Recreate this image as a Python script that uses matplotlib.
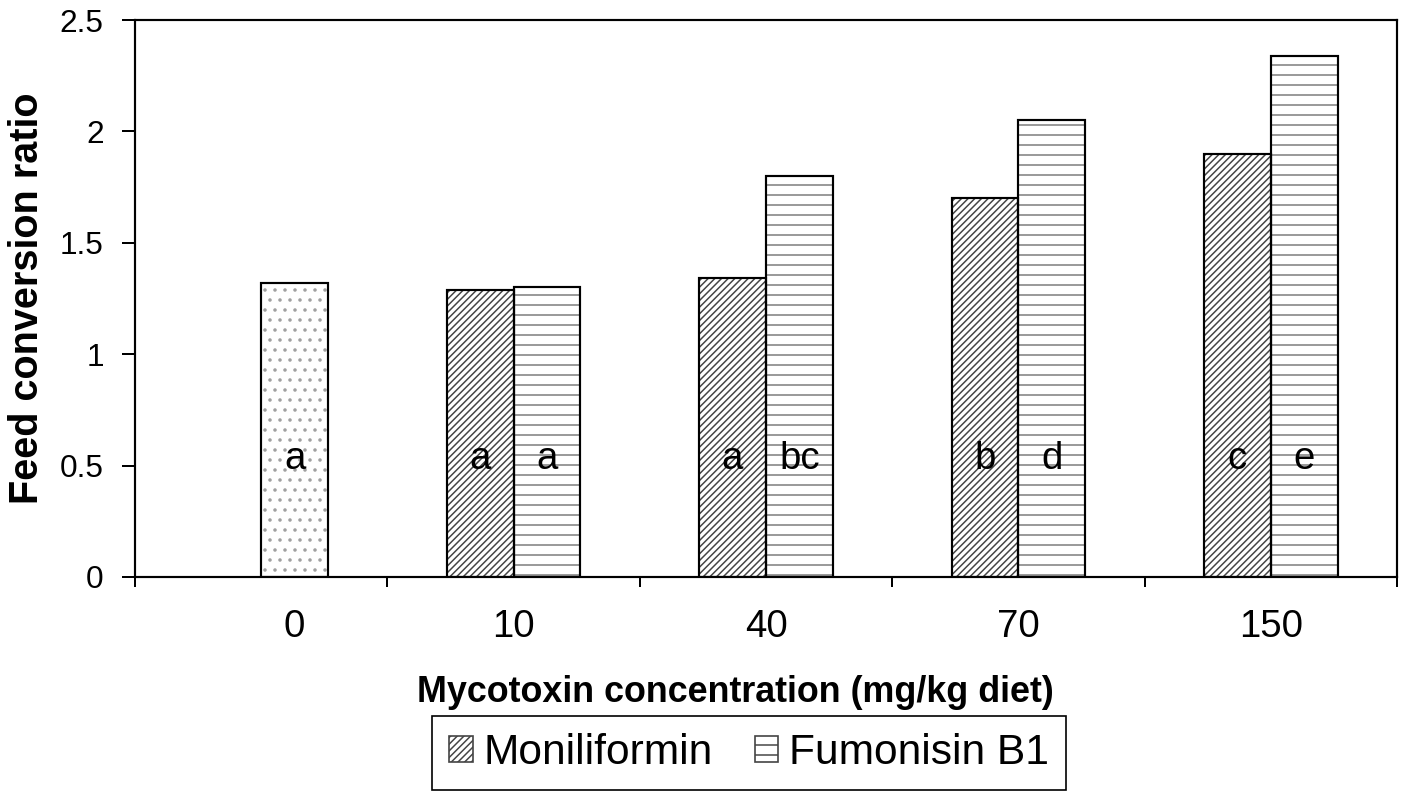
import matplotlib.pyplot as plt
from matplotlib.patches import Patch
import numpy as np

plt.rcParams['font.family'] = ['Liberation Sans', 'DejaVu Sans']
plt.rcParams['hatch.linewidth'] = 0.9

# datos de conversion alimenticia
concentraciones = ['0', '10', '40', '70', '150']
control = 1.32
moniliformin = [1.29, 1.34, 1.70, 1.90]
fumonisin = [1.30, 1.80, 2.05, 2.34]
letras_control = 'a'
letras_mon = ['a', 'a', 'b', 'c']
letras_fum = ['a', 'bc', 'd', 'e']

ancho = 0.265
grupos = np.arange(1, 5)

fig = plt.figure(figsize=(1402 / 120, 794 / 120), dpi=120)
ax = fig.add_axes([135 / 1402, 1 - 577 / 794, (1397 - 135) / 1402, (577 - 20) / 794])


def barra(x, h, hatch, color_hatch):
    # relleno con trama y luego el contorno negro encima
    ax.bar(x, h, ancho, align='edge', facecolor='white', edgecolor=color_hatch,
           hatch=hatch, linewidth=0, zorder=2)
    ax.bar(x, h, ancho, align='edge', facecolor='none', edgecolor='black',
           linewidth=1.3, zorder=3)


# control (0 mg/kg)
barra(0, control, '..', '#a0a0a0')
ax.text(ancho / 2, 0.53, letras_control, ha='center', va='center', fontsize=23, zorder=4)

for g, m, f, lm, lf in zip(grupos, moniliformin, fumonisin, letras_mon, letras_fum):
    barra(g - ancho, m, '//////', '#444444')
    barra(g, f, '--', '#7a7a7a')
    ax.text(g - ancho / 2, 0.53, lm, ha='center', va='center', fontsize=23, zorder=4)
    ax.text(g + ancho / 2, 0.53, lf, ha='center', va='center', fontsize=23, zorder=4)

ax.set_xlim(-0.5, 4.5)
ax.set_ylim(0, 2.5)
ax.set_yticks([0, 0.5, 1, 1.5, 2, 2.5])
ax.set_yticklabels(['0', '0.5', '1', '1.5', '2', '2.5'])
ax.tick_params(axis='y', direction='out', length=7.8, width=1.2, pad=11, labelsize=19)

ax.set_xticks([ancho / 2, 1, 2, 3, 4])
ax.set_xticklabels(concentraciones)
ax.set_xticks(np.arange(-0.5, 5, 1), minor=True)
ax.tick_params(axis='x', which='major', length=0, pad=19, labelsize=23)
ax.tick_params(axis='x', which='minor', direction='out', length=6, width=1.2)

for s in ax.spines.values():
    s.set_linewidth(1.3)

ax.set_xlabel('Mycotoxin concentration (mg/kg diet)', fontsize=21.5,
              fontweight='bold', labelpad=18)
ax.xaxis.label.set_x((735 - 135) / 1262)
ax.set_ylabel('Feed conversion ratio', fontsize=23.8, fontweight='bold', labelpad=8)

handles = [Patch(facecolor='white', edgecolor='#444444', hatch='//////', linewidth=1.0),
           Patch(facecolor='white', edgecolor='#444444', hatch='--', linewidth=1.0)]
leg = fig.legend(handles, ['Moniliformin', 'Fumonisin B1'], loc='center',
                 bbox_to_anchor=(749 / 1402, 1 - 753 / 794), ncol=2, fontsize=25.5,
                 frameon=True, fancybox=False, edgecolor='black', framealpha=1,
                 handlelength=0.55, handleheight=0.55, handletextpad=0.25,
                 columnspacing=1.0, borderpad=0.4, borderaxespad=0)
leg.get_frame().set_linewidth(1.0)

fig.savefig('out.png', dpi=120)
